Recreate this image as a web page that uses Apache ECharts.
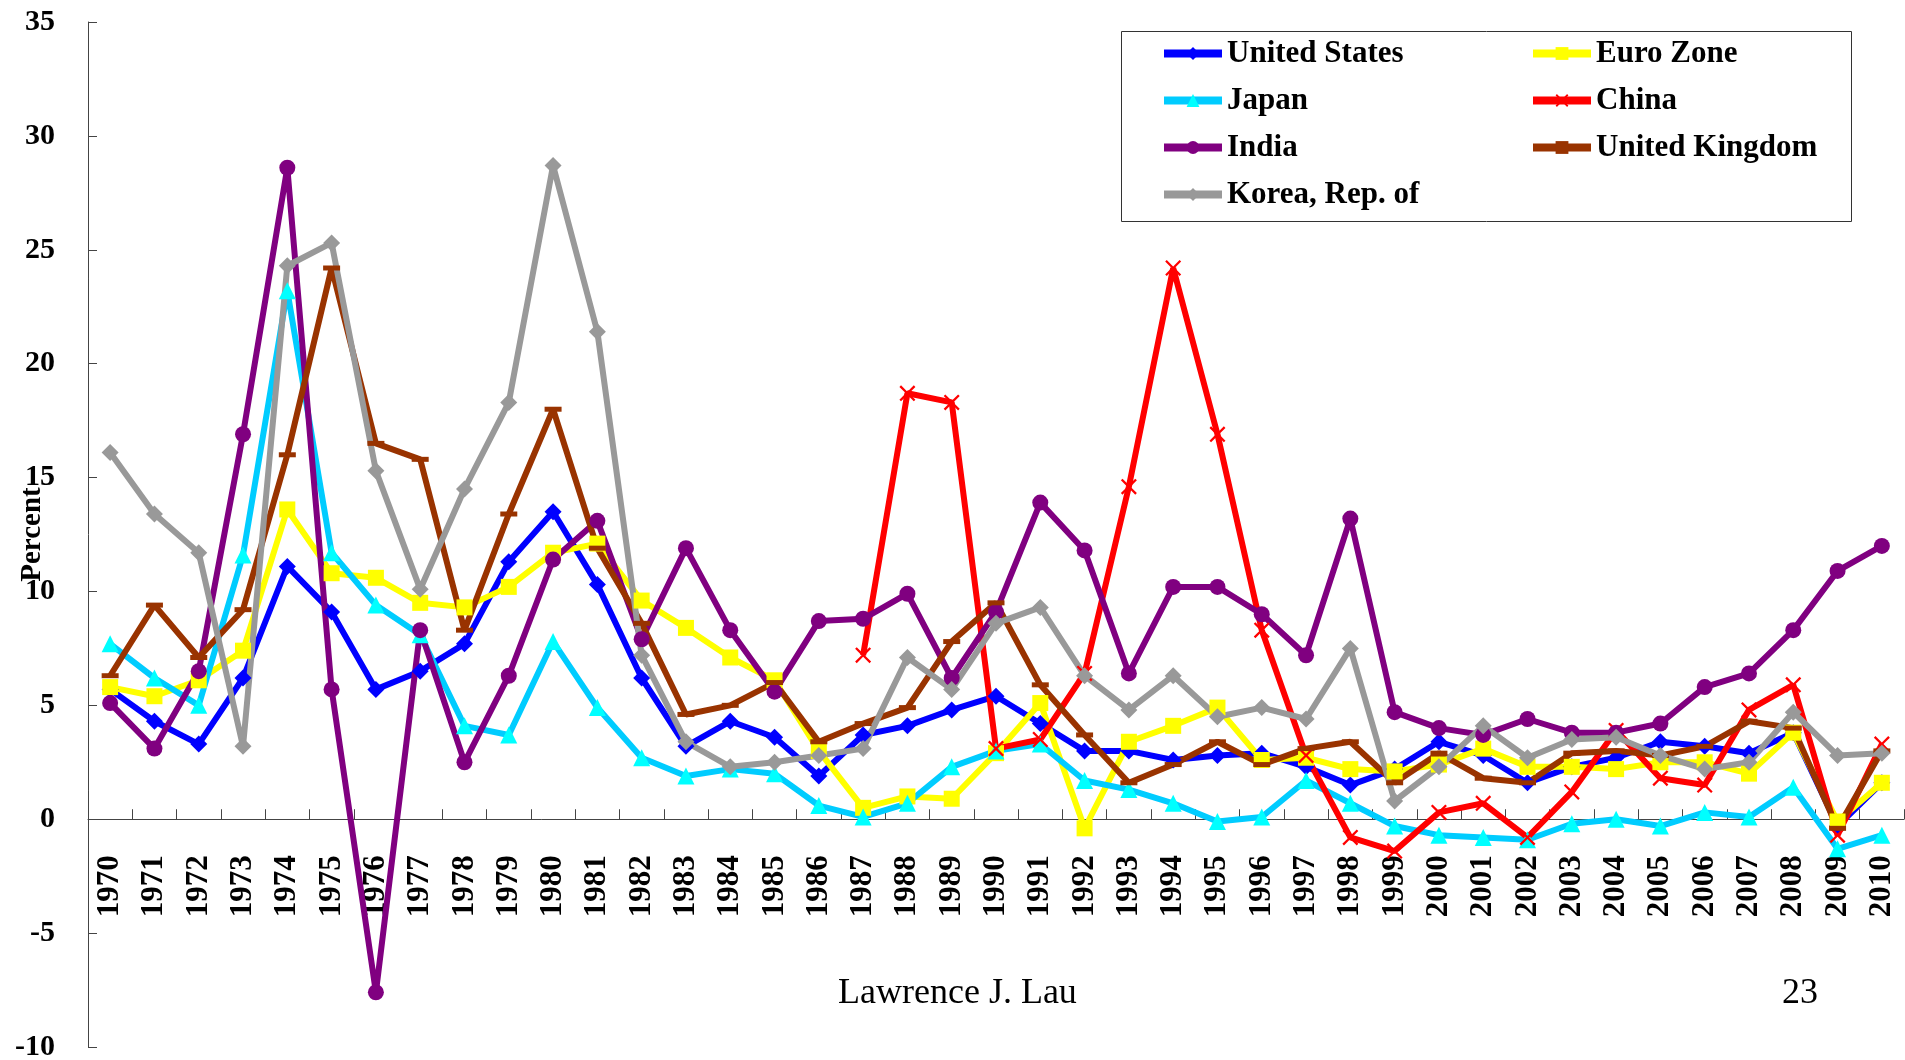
<!DOCTYPE html>
<html>
<head>
<meta charset="utf-8">
<title>Inflation rates</title>
<script src="https://cdn.jsdelivr.net/npm/echarts@6/dist/echarts.min.js"></script>
<style>
  html, body { margin: 0; padding: 0; background: #fff; }
  #main { width: 1905px; height: 1060px; }
</style>
</head>
<body>
<div id="main"></div>
<script>
var years = ['1970','1971','1972','1973','1974','1975','1976','1977','1978','1979',
  '1980','1981','1982','1983','1984','1985','1986','1987','1988','1989',
  '1990','1991','1992','1993','1994','1995','1996','1997','1998','1999',
  '2000','2001','2002','2003','2004','2005','2006','2007','2008','2009','2010'];

var unitedStates = [5.7,4.3,3.3,6.2,11.1,9.1,5.7,6.5,7.7,11.3,
  13.5,10.3,6.2,3.2,4.3,3.6,1.9,3.7,4.1,4.8,
  5.4,4.2,3.0,3.0,2.6,2.8,2.9,2.3,1.5,2.2,
  3.4,2.8,1.6,2.3,2.7,3.4,3.2,2.9,3.8,-0.3,1.6];

var euroZone = [5.8,5.4,6.1,7.4,13.6,10.8,10.6,9.5,9.3,10.2,
  11.7,12.1,9.6,8.4,7.1,6.1,3.0,0.5,1.0,0.9,
  2.9,5.1,-0.4,3.4,4.1,4.9,2.6,2.7,2.2,2.1,
  2.4,3.1,2.3,2.3,2.2,2.5,2.5,2.0,3.8,-0.1,1.6];

var japan = [7.7,6.2,5.0,11.6,23.2,11.7,9.4,8.1,4.1,3.7,
  7.8,4.9,2.7,1.9,2.2,2.0,0.6,0.1,0.7,2.3,
  3.0,3.3,1.7,1.3,0.7,-0.1,0.1,1.7,0.7,-0.3,
  -0.7,-0.8,-0.9,-0.2,0.0,-0.3,0.3,0.1,1.4,-1.3,-0.7];

var china = [null,null,null,null,null,null,null,null,null,null,
  null,null,null,null,null,null,null,7.2,18.7,18.3,
  3.1,3.5,6.4,14.6,24.2,16.9,8.3,2.8,-0.8,-1.4,
  0.3,0.7,-0.8,1.2,3.9,1.8,1.5,4.8,5.9,-0.7,3.3];

var india = [5.1,3.1,6.5,16.9,28.6,5.7,-7.6,8.3,2.5,6.3,
  11.4,13.1,7.9,11.9,8.3,5.6,8.7,8.8,9.9,6.2,
  9.1,13.9,11.8,6.4,10.2,10.2,9.0,7.2,13.2,4.7,
  4.0,3.7,4.4,3.8,3.8,4.2,5.8,6.4,8.3,10.9,12.0];

var unitedKingdom = [6.3,9.4,7.1,9.2,16.0,24.2,16.5,15.8,8.3,13.4,
  18.0,11.9,8.6,4.6,5.0,6.0,3.4,4.2,4.9,7.8,
  9.5,5.9,3.7,1.6,2.4,3.4,2.4,3.1,3.4,1.6,
  2.9,1.8,1.6,2.9,3.0,2.8,3.2,4.3,4.0,-0.4,3.0];

var korea = [16.1,13.4,11.7,3.2,24.3,25.3,15.3,10.1,14.5,18.3,
  28.7,21.4,7.2,3.4,2.3,2.5,2.8,3.1,7.1,5.7,
  8.6,9.3,6.3,4.8,6.3,4.5,4.9,4.4,7.5,0.8,
  2.3,4.1,2.7,3.5,3.6,2.8,2.2,2.5,4.7,2.8,2.9];

var yMin = -10, yMax = 35, yStep = 5;

var serifFont = "'Liberation Serif', 'Times New Roman', serif";

// plot box
var gridTop = 22, gridBottom = 13, gridLeft = 88;
var gridHeight = 1060 - gridTop - gridBottom;
// category axis sits on the zero line, labels included
var xAxisOffset = -gridHeight * (0 - yMin) / (yMax - yMin);

var chart = echarts.init(document.getElementById('main'));

var crossPath = 'path://M0,1L1,0L5,4L9,0L10,1L6,5L10,9L9,10L5,6L1,10L0,9L4,5Z';

function lineSeries(name, data, color, markerColor, symbol, size) {
  return {
    name: name,
    type: 'line',
    data: data,
    symbol: symbol,
    symbolSize: size,
    showAllSymbol: true,
    connectNulls: false,
    lineStyle: { color: color, width: 6 },
    itemStyle: { color: markerColor, borderWidth: 0 },
    emphasis: { disabled: true },
    z: 2
  };
}

var option = {
  backgroundColor: '#ffffff',
  animation: false,
  grid: {
    left: gridLeft, right: 1, top: gridTop, bottom: gridBottom,
    containLabel: false,
    outerBoundsMode: 'none'
  },
  legend: {
    left: 1160,
    top: 30,
    width: 800,
    padding: 0,
    itemGap: 0,
    itemWidth: 58,
    itemHeight: 16,
    lineStyle: { width: 8 },
    data: ['United States','Euro Zone','Japan','China','India','United Kingdom','Korea, Rep. of'],
    textStyle: {
      fontFamily: serifFont,
      fontWeight: 'bold',
      fontSize: 31,
      color: '#000',
      width: 302,
      lineHeight: 47
    }
  },
  graphic: [
    {
      type: 'rect',
      left: 1119, top: 29,
      shape: { width: 730, height: 190 },
      style: { fill: 'none', stroke: '#333', lineWidth: 1 },
      z: 0
    },
    {
      type: 'text',
      left: 838,
      top: 976,
      style: { text: 'Lawrence J. Lau', font: '36px ' + serifFont, fill: '#000' }
    },
    {
      type: 'text',
      left: 1782,
      top: 976,
      style: { text: '23', font: '36px ' + serifFont, fill: '#000' }
    }
  ],
  xAxis: {
    type: 'category',
    data: years,
    boundaryGap: true,
    offset: xAxisOffset,
    axisLine: { onZero: false, lineStyle: { color: '#444', width: 1 } },
    axisTick: { show: true, inside: true, length: 10, interval: 0, lineStyle: { color: '#444' } },
    axisLabel: {
      interval: 0,
      rotate: 90,
      align: 'right',
      verticalAlign: 'middle',
      margin: 36,
      hideOverlap: false,
      overflow: 'none',
      fontFamily: serifFont,
      fontWeight: 'bold',
      fontSize: 31,
      color: '#000'
    },
    splitLine: { show: false }
  },
  yAxis: {
    type: 'value',
    min: yMin,
    max: yMax,
    interval: yStep,
    name: 'Percent',
    nameLocation: 'middle',
    nameGap: 41,
    nameMoveOverlap: false,
    nameTextStyle: {
      fontFamily: serifFont,
      fontWeight: 'bold',
      fontSize: 29,
      color: '#000'
    },
    axisLine: { show: true, lineStyle: { color: '#444', width: 1 } },
    axisTick: { show: true, inside: true, length: 9, lineStyle: { color: '#444' } },
    axisLabel: {
      margin: 33,
      fontFamily: serifFont,
      fontWeight: 'bold',
      fontSize: 30,
      color: '#000'
    },
    splitLine: { show: false }
  },
  series: [
    lineSeries('United States', unitedStates, '#0000FF', '#0000FF', 'diamond', 17),
    lineSeries('Euro Zone', euroZone, '#FFFF00', '#FFFF00', 'rect', 16),
    lineSeries('Japan', japan, '#00CCFF', '#00FFFF', 'triangle', 17),
    lineSeries('China', china, '#FF0000', '#FF0000', crossPath, 16),
    lineSeries('India', india, '#800080', '#800080', 'circle', 16),
    lineSeries('United Kingdom', unitedKingdom, '#993300', '#993300', 'rect', [17, 5]),
    lineSeries('Korea, Rep. of', korea, '#999999', '#999999', 'diamond', 17)
  ]
};

chart.setOption(option);
</script>
</body>
</html>
